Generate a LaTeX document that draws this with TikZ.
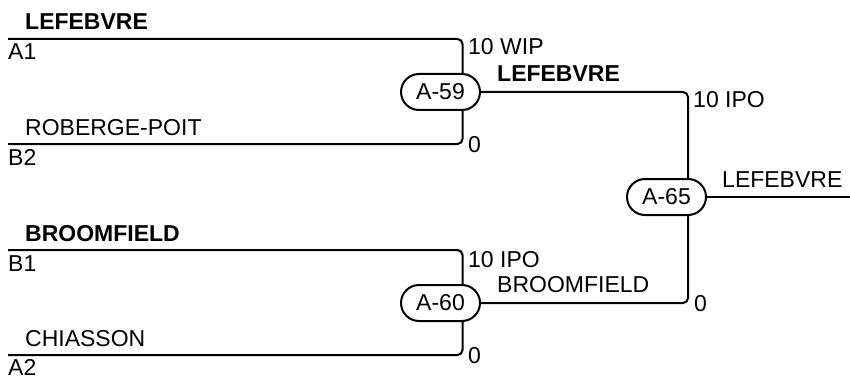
\documentclass[tikz,border=0pt]{standalone}
\usepackage{fontspec}
\setmainfont{Liberation Sans}
\usetikzlibrary{shapes.misc}

\begin{document}
\begin{tikzpicture}[x=1pt, y=-1pt, font=\fontsize{23}{27}\selectfont, main/.style={draw, rounded rectangle, minimum width=79pt, minimum height=36pt, inner sep=0pt, line width=2pt, fill=white}, info/.style={anchor=base west, inner sep=0pt}, win/.style={info, font=\fontsize{23}{27}\selectfont\bfseries}, n/.style={line width=2pt, rounded corners=5pt}]
                \useasboundingbox (0,0) rectangle (850,377);
                % nodes
                \node[main]          (m59) at (440.5,92) {A-59};
                \node[main]          (m60) at (440.5,303) {A-60};
                \node[main]          (m65) at (666.5,197) {A-65};
                \coordinate (a1) at (8,39);
                \coordinate (b2) at (8,144);
                \coordinate (b1) at (8,250);
                \coordinate (a2) at (8,355);
                \coordinate (champ) at (850,197);
                % edges
                \draw [n] (a1) -| ([xshift=22pt]m59.north);
                \draw [n] (b2) -| ([xshift=22pt]m59.south);
                \draw [n] (b1) -| ([xshift=22pt]m60.north);
                \draw [n] (a2) -| ([xshift=22pt]m60.south);
                \draw [n] (m59.east) -| ([xshift=21.5pt]m65.north);
                \draw [n] (m60.east) -| ([xshift=21.5pt]m65.south);
                \draw [n] (m65.east) -- (champ);
                % labels
                \node[win]  (wa1) at (25,30) {LEFEBVRE};
                \node[info] (sa1) at (8,60) {A1};
                \node[info] (pb2) at (25,135) {ROBERGE-POIT};
                \node[info] (sb2) at (8,165) {B2};
                \node[info] (sc59a) at (468,55) {10 WIP};
                \node[info] (sc59b) at (468,152) {0};
                \node[win]  (w59) at (497,82) {LEFEBVRE};
                \node[info] (sc65a) at (693,107) {10 IPO};
                \node[info] (w65) at (722,187) {LEFEBVRE};
                \node[win]  (wb1) at (25,241) {BROOMFIELD};
                \node[info] (sb1) at (8,271) {B1};
                \node[info] (pa2) at (25,346) {CHIASSON};
                \node[info] (sa2) at (8,375) {A2};
                \node[info] (sc60a) at (468,267) {10 IPO};
                \node[info] (sc60b) at (468,363) {0};
                \node[info] (w60) at (497,292) {BROOMFIELD};
                \node[info] (sc65b) at (694,311) {0};
            \end{tikzpicture}
\end{document}
